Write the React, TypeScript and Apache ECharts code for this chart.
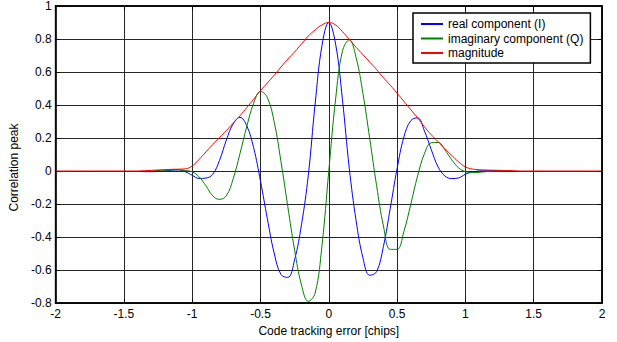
import React, { useEffect, useRef } from "react";
import * as echarts from "echarts";

// Code tracking error [chips] for the sampled curves
const errorChips = [
  -1.35, -1.3, -1.25, -1.2, -1.15, -1.1, -1.05, -1.0, -0.95, -0.9, -0.85, -0.8, -0.75, -0.7,
  -0.65, -0.6, -0.55, -0.5, -0.45, -0.4, -0.35, -0.3, -0.25, -0.2, -0.15, -0.1, -0.05, 0,
  0.05, 0.1, 0.15, 0.2, 0.25, 0.3, 0.35, 0.4, 0.45, 0.5, 0.55, 0.6, 0.65, 0.7, 0.75, 0.8,
  0.85, 0.9, 0.95, 1.0, 1.05, 1.1, 1.15, 1.2, 1.25, 1.3, 1.35,
];

const realComponent = [
  -0.004, -0.004, -0.003, 0.0, 0.005, 0.007, -0.005, -0.026, -0.045, -0.043, -0.02, 0.064, 0.187, 0.286,
  0.325, 0.273, 0.141, -0.061, -0.288, -0.497, -0.627, -0.645, -0.537, -0.326, -0.026, 0.406, 0.76, 0.9,
  0.769, 0.433, 0.017, -0.301, -0.526, -0.632, -0.61, -0.457, -0.226, 0.014, 0.207, 0.305, 0.322, 0.243, 0.13, 0.025,
  -0.03, -0.046, -0.042, -0.02, -0.006, 0.0, 0.002, 0.002, 0.0, -0.002, -0.002,
];

const imaginaryComponent = [
  -0.002, 0.0, 0.003, 0.005, 0.007, 0.007, 0.003, -0.005, -0.035, -0.089, -0.15, -0.172, -0.15, -0.047,
  0.106, 0.271, 0.411, 0.483, 0.445, 0.299, 0.057, -0.216, -0.48, -0.69, -0.79, -0.74, -0.453, 0.0,
  0.437, 0.726, 0.795, 0.687, 0.47, 0.195, -0.089, -0.333, -0.475, -0.475, -0.366, -0.202, -0.03, 0.105, 0.171, 0.173,
  0.128, 0.068, 0.019, -0.004, -0.01, -0.008, -0.004, -0.002, 0.0, 0.0, 0.0,
];

const magnitude = [
  0.002, 0.004, 0.006, 0.008, 0.01, 0.011, 0.013, 0.03, 0.07, 0.115, 0.16, 0.203, 0.245, 0.29,
  0.335, 0.385, 0.435, 0.487, 0.533, 0.58, 0.63, 0.678, 0.722, 0.77, 0.818, 0.855, 0.885, 0.9,
  0.885, 0.845, 0.798, 0.75, 0.705, 0.66, 0.615, 0.565, 0.52, 0.472, 0.422, 0.372, 0.322, 0.268, 0.22, 0.178,
  0.135, 0.095, 0.055, 0.025, 0.012, 0.008, 0.006, 0.005, 0.004, 0.003, 0.002,
];

// flat zero stretches of the magnitude outside the sampled range
const magnitudeLeadX = [-2, -1.4];
const magnitudeTrailX = [1.4, 2];

const seriesNames = ["real component (I)", "imaginary component (Q)", "magnitude"];
const seriesColors = ["#0000ff", "#008000", "#ff0000"];

const xLabel = "Code tracking error [chips]";
const yLabel = "Correlation peak";

const FONT = "'Liberation Sans', Arial, Helvetica, sans-serif";

export default function App() {
  const ref = useRef<HTMLDivElement>(null);

  useEffect(() => {
    if (!ref.current) return;
    const chart = echarts.init(ref.current, undefined, { renderer: "svg" });

    const pairs = (ys: number[]) => errorChips.map((x, i) => [x, ys[i]]);
    const magData = [
      ...magnitudeLeadX.map((x) => [x, 0]),
      ...pairs(magnitude),
      ...magnitudeTrailX.map((x) => [x, 0]),
    ];

    const tick = { show: true, inside: true, length: 4, lineStyle: { color: "#000", width: 1 } };
    const axisLine = { show: true, onZero: false, lineStyle: { color: "#000", width: 1.5 } };
    const split = { show: true, lineStyle: { color: "#262626", width: 1 } };

    const mkSeries = (name: string, color: string, data: number[][]) => ({
      name,
      type: "line",
      data,
      smooth: 0.4,
      symbol: "none",
      showSymbol: false,
      lineStyle: { color, width: 1 },
      itemStyle: { color },
      emphasis: { disabled: true },
    });

    chart.setOption({
      animation: false,
      backgroundColor: "#ffffff",
      textStyle: { fontFamily: FONT },
      grid: {
        left: 55,
        right: 15,
        top: 6,
        bottom: 39,
        show: true,
        borderColor: "#000",
        borderWidth: 1.5,
        backgroundColor: "transparent",
      },
      legend: {
        left: 413,
        top: 13,
        orient: "vertical",
        data: seriesNames,
        itemWidth: 22,
        itemHeight: 12,
        itemGap: 2.5,
        padding: [5, 7, 4, 7],
        backgroundColor: "#fff",
        borderColor: "#000",
        borderWidth: 1.5,
        borderRadius: 0,
        itemStyle: { opacity: 0 },
        textStyle: { fontFamily: FONT, fontSize: 12, color: "#000" },
        selectedMode: false,
      },
      xAxis: [
        {
          type: "value",
          min: -2,
          max: 2,
          interval: 0.5,
          name: xLabel,
          nameLocation: "middle",
          nameGap: 19,
          nameTextStyle: { fontFamily: FONT, fontSize: 12, color: "#000" },
          axisLine,
          axisTick: tick,
          axisLabel: { fontFamily: FONT, fontSize: 12, color: "#000", margin: 5 },
          splitLine: split,
        },
        {
          type: "value",
          position: "top",
          min: -2,
          max: 2,
          interval: 0.5,
          axisLine,
          axisTick: tick,
          axisLabel: { show: false },
          splitLine: { show: false },
        },
      ],
      yAxis: [
        {
          type: "value",
          min: -0.8,
          max: 1,
          interval: 0.2,
          name: yLabel,
          nameLocation: "middle",
          nameGap: 30,
          nameTextStyle: { fontFamily: FONT, fontSize: 12, color: "#000", padding: [0, 26, 0, 0] },
          axisLine,
          axisTick: tick,
          axisLabel: { fontFamily: FONT, fontSize: 12, color: "#000", margin: 4 },
          splitLine: split,
        },
        {
          type: "value",
          position: "right",
          min: -0.8,
          max: 1,
          interval: 0.2,
          axisLine,
          axisTick: tick,
          axisLabel: { show: false },
          splitLine: { show: false },
        },
      ],
      series: [
        mkSeries(seriesNames[0], seriesColors[0], pairs(realComponent)),
        mkSeries(seriesNames[1], seriesColors[1], pairs(imaginaryComponent)),
        mkSeries(seriesNames[2], seriesColors[2], magData),
      ],
    });

    return () => chart.dispose();
  }, []);

  return (
    <div
      ref={ref}
      style={{ position: "fixed", left: 0, top: 0, width: 617, height: 342, background: "#fff" }}
    />
  );
}
